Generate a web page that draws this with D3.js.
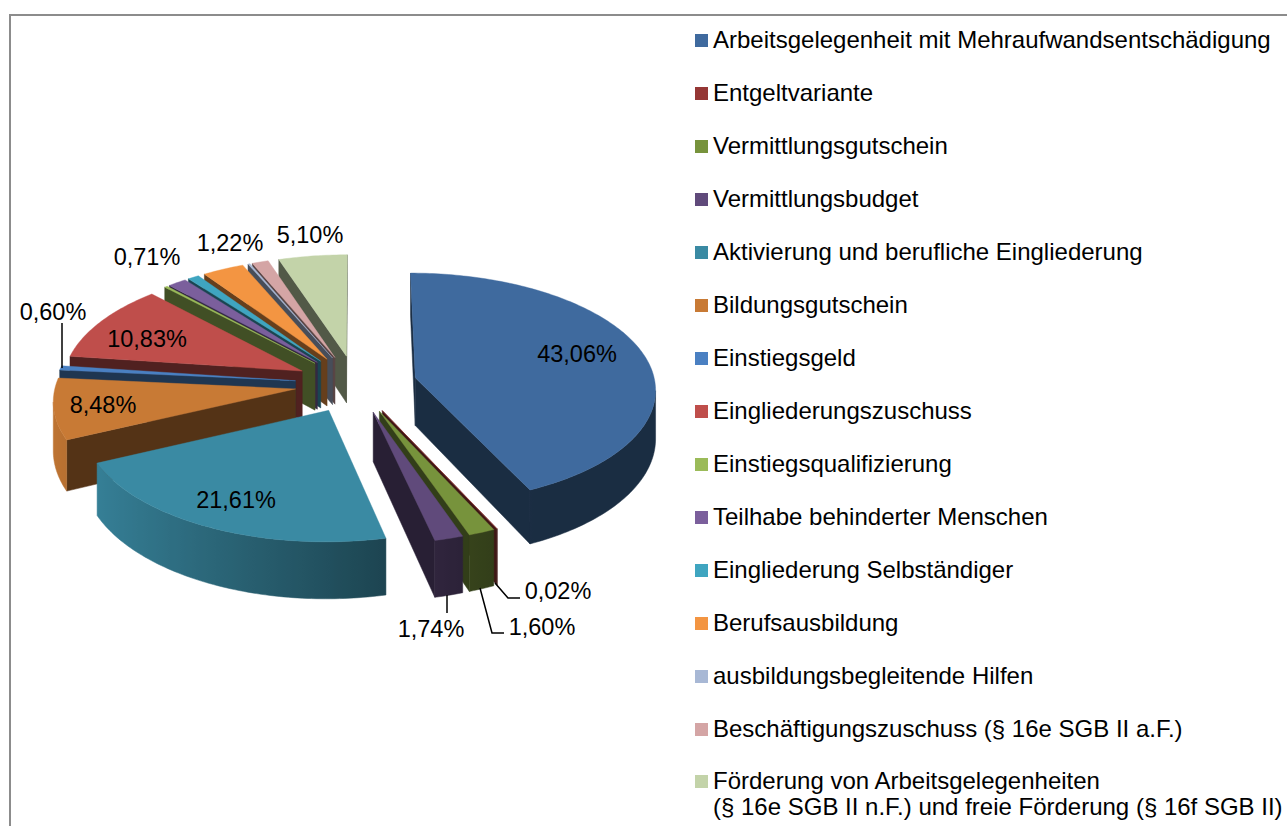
<!DOCTYPE html>
<html><head><meta charset="utf-8">
<style>html,body{margin:0;padding:0;background:#fff;overflow:hidden}svg{display:block}text{font-family:"Liberation Sans",Arial,sans-serif;fill:#000}</style>
<script src="https://cdn.jsdelivr.net/npm/d3@7/dist/d3.min.js"></script></head><body>
<svg id="c" width="1287" height="826"><defs id="defs"></defs></svg>
<script>
const categories=["Arbeitsgelegenheit mit Mehraufwandsentschädigung","Entgeltvariante","Vermittlungsgutschein","Vermittlungsbudget","Aktivierung und berufliche Eingliederung","Bildungsgutschein","Einstiegsgeld","Eingliederungszuschuss","Einstiegsqualifizierung","Teilhabe behinderter Menschen","Eingliederung Selbständiger","Berufsausbildung","ausbildungsbegleitende Hilfen","Beschäftigungszuschuss (§ 16e SGB II a.F.)","Förderung von Arbeitsgelegenheiten|(§ 16e SGB II n.F.) und freie Förderung (§ 16f SGB II)"];
const values=[43.06,0.02,1.60,1.74,21.61,8.48,0.60,10.83,0.22,1.40,0.85,3.11,0.16,1.22,5.10];
const colors=["#3f6a9e","#953735","#77933c","#604a7b","#3a8aa3","#c87a35","#4a80c2","#bf4e4b","#9bbb59","#7b5f9c","#3fa5c0","#f39542","#a8b8d5","#d4a5a5","#c3d3a9"];
const dataLabels=["43,06%","10,83%","8,48%","21,61%","0,60%","0,71%","1,22%","5,10%","0,02%","1,60%","1,74%"];

// layout constants
const W=1287,H=826,cx=356,cy=384,A=240,B=115,persp=0.088,explode=0.25,depth=48;
const labelAt=[[577,354],[147,339],[103,405],[236,500],[53,312],[147,257],[230,243],[310,235],[558,591],[542,627],[431,629]];
const leaders=[[[62,323],[62,368]],[[495,583],[508,598],[520,598]],[[480,588],[492,633],[504,633]],[[447,595],[447,613]]];
const legendY=[40,93,146,199,252,305,358,411,464,517,570,623,676,729,781];

const svg=d3.select("#c"),defs=d3.select("#defs");
svg.append("path").attr("d",`M10,${H}V15H${W}`).attr("fill","none").attr("stroke","#8c8c8c").attr("stroke-width",2);

const line=d3.line();
const arcs=d3.pie().sort(null).value(d=>d).startAngle(0).endAngle(2*Math.PI)(values);
function wOf(Z){return 1/(1-persp*Z)}
function proj(X,Z,h){const w=wOf(Z);return [cx+A*X*w, cy+B*Z*w+(h?depth*Math.pow(w,1.5):0)]}
const g=svg.append("g");
const order=arcs.map((a,i)=>{const mid=(a.startAngle+a.endAngle)/2;return {a,i,mid,ox:explode*Math.sin(mid)*1.0167,oz:-explode*Math.cos(mid)}}).sort((p,q)=>p.oz-q.oz);
const shade=(c,b)=>d3.interpolateRgb("#000",c)(b);
const camZ=1/persp;
order.forEach(({a,i,ox,oz})=>{
  const c=colors[i],sg=g.append("g");
  const pt=t=>[ox+Math.sin(t),oz-Math.cos(t)];
  const faces=(P,n)=>(-P[0])*n[0]+(camZ-P[1])*n[1]>0;
  const ap=[ox,oz];
  [[a.startAngle,-1],[a.endAngle,1]].forEach(([t,s])=>{
    const n=[s*Math.cos(t),s*Math.sin(t)],P=pt(t);
    if(faces(ap,n)){
      sg.append("path").attr("d",line([proj(ap[0],ap[1]),proj(P[0],P[1]),proj(P[0],P[1],1),proj(ap[0],ap[1],1)])+"Z")
        .attr("fill",shade(c,.42)).attr("stroke",shade(c,.42)).attr("stroke-width",.5);
    }
  });
  const step=Math.PI/180,n=Math.max(1,Math.ceil((a.endAngle-a.startAngle)/step));
  const ts=d3.range(n+1).map(k=>a.startAngle+(a.endAngle-a.startAngle)*k/n);
  const vis=ts.filter(t=>faces(pt(t),[Math.sin(t),-Math.cos(t)]));
  if(vis.length>1){
    const upper=vis.map(t=>{const P=pt(t);return proj(P[0],P[1])});
    const lower=vis.map(t=>{const P=pt(t);return proj(P[0],P[1],1)}).reverse();
    const xs=upper.map(p=>p[0]),x0=d3.min(xs),x1=d3.max(xs);
    const off=d3.scaleLinear().domain([x0,x1]).range([0,1]);
    const gr=defs.append("linearGradient").attr("id","rim"+i).attr("gradientUnits","userSpaceOnUse")
      .attr("x1",x0).attr("x2",x1).attr("y1",0).attr("y2",0);
    vis.map((t,k)=>({o:off(xs[k]),b:Math.max(.42,Math.min(1,.58-.375*Math.sin(t)))})).sort((p,q)=>p.o-q.o)
      .forEach(s=>gr.append("stop").attr("offset",s.o).attr("stop-color",shade(c,s.b)));
    sg.append("path").attr("d",line(upper.concat(lower))+"Z").attr("fill",`url(#rim${i})`).attr("stroke",`url(#rim${i})`).attr("stroke-width",.5);
  }
  const top=[proj(ap[0],ap[1])].concat(ts.map(t=>{const P=pt(t);return proj(P[0],P[1])}));
  sg.append("path").attr("d",line(top)+"Z").attr("fill",c).attr("stroke",c).attr("stroke-width",.4);
});

leaders.forEach(l=>svg.append("path").attr("d",line(l)).attr("fill","none").attr("stroke","#000").attr("stroke-width",1.5));
dataLabels.forEach((t,i)=>svg.append("text").attr("x",labelAt[i][0]).attr("y",labelAt[i][1]+8).attr("text-anchor","middle").attr("font-size",23.5).text(t));

const leg=svg.append("g");
categories.forEach((t,i)=>{
  const y=legendY[i];
  leg.append("rect").attr("x",695).attr("y",y-6).attr("width",13).attr("height",13).attr("fill",colors[i]);
  t.split("|").forEach((s,j)=>leg.append("text").attr("x",713).attr("y",y+7.5+j*26).attr("font-size",24).text(s));
});
</script></body></html>
